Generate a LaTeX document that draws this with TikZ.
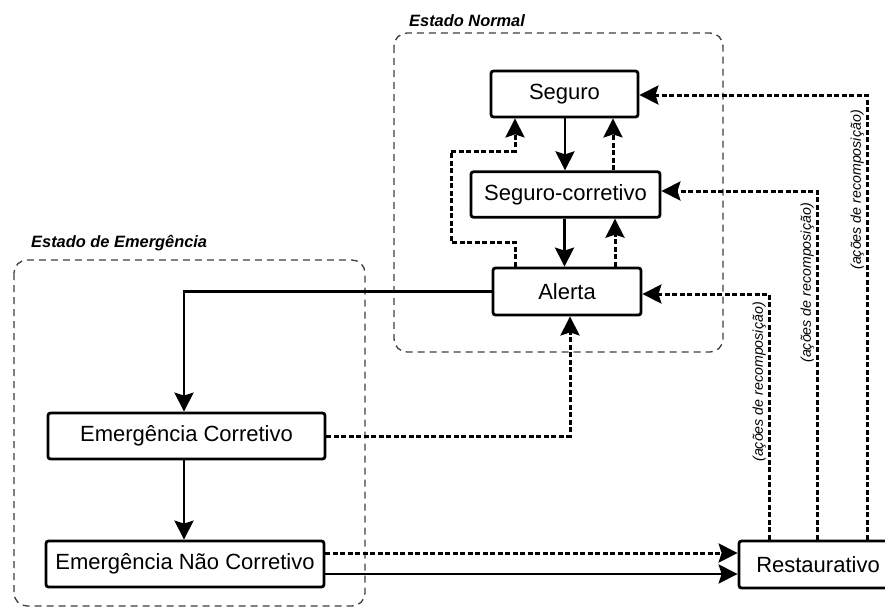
\documentclass[tikz,border=0pt]{standalone}
\usepackage{fontspec}
\setmainfont{Liberation Sans}
\usetikzlibrary{arrows.meta,calc}
\tikzset{
  box/.style={draw, line width=2.8pt, rounded corners=2.5pt, inner sep=0pt,
    minimum height=46pt, font=\fontsize{22}{26}\selectfont, fill=white},
  grp/.style={draw=black!75, line width=1.3pt, dash pattern=on 7pt off 5pt, rounded corners=13pt},
  grplabel/.style={font=\fontsize{16.4}{19}\selectfont\bfseries\itshape, inner sep=0pt},
  tip/.style={-{Stealth[length=19pt,width=19pt,inset=3pt]}},
  sarr/.style={tip, line width=2.8pt},
  darr/.style={tip, line width=3pt, dash pattern=on 5pt off 2.5pt},
  rlabel/.style={rotate=90, anchor=south east, inner sep=0pt,
    font=\fontsize{14.2}{17}\selectfont\itshape}
}
\begin{document}
\begin{tikzpicture}[x=1pt,y=-1pt]
\clip (0,0) rectangle (885,608);
\fill[white] (0,0) rectangle (885,608);
% groups
\draw[grp] (394,33) rectangle (723,352);
\node[grplabel, anchor=west] (lblN) at (409,21) {Estado Normal};
\draw[grp] (14,260) rectangle (365,606);
\node[grplabel, anchor=west] (lblE) at (31,243) {Estado de Emergência};
% nodes
\node[box, minimum width=147pt] (seg) at (564.5,94) {Seguro};
\node[box, minimum width=189pt, minimum height=45.5pt] (sc) at (565.5,194.5) {Seguro-corretivo};
\node[box, minimum width=148pt, minimum height=47pt] (al) at (567,291.5) {Alerta};
\node[box, minimum width=277pt] (ec) at (186.5,436) {Emergência Corretivo};
\node[box, minimum width=278pt] (enc) at (185,564) {Emergência Não Corretivo};
\node[box, minimum width=158pt, minimum height=47pt] (rest) at (818,564.5) {Restaurativo};
% coordinates
\coordinate (pA) at (451,242);
\coordinate (pB) at (451,151);
\coordinate (xEC) at (184,0);
\coordinate (xEA) at (570,0);
\coordinate (r1) at (769,0);
\coordinate (r2) at (817,0);
\coordinate (r3) at (867,0);
% internal normal-state arrows
\draw[sarr] ([xshift=0.5pt]seg.south) -- ([xshift=0.5pt]seg.south |- sc.north);
\draw[sarr] ([xshift=-1pt]sc.south) -- ([xshift=-1pt]sc.south |- al.north);
\draw[darr] ([xshift=47.5pt]sc.north) -- ([xshift=47.5pt]sc.north |- seg.south);
\draw[darr] ([xshift=48pt]al.north) -- ([xshift=48pt]al.north |- sc.south);
\draw[darr] ([xshift=-52pt]al.north) |- (pA) -- (pB) -| ([xshift=-49.5pt]seg.south);
% alert to emergency
\draw[sarr] (al.west) -| (xEC |- ec.north);
\draw[sarr] (xEC |- ec.south) -- (xEC |- enc.north);
\draw[darr] (ec.east) -| (xEA |- al.south);
% emergency to restaurative
\draw[darr] ([yshift=11pt]enc.east) -- ([yshift=11pt]enc.east -| rest.west);
\draw[sarr] ([yshift=-10pt]enc.east) -- ([yshift=-10pt]enc.east -| rest.west);
% restaurative back
\draw[darr] (r1 |- rest.north) |- ([yshift=-2.5pt]al.east);
\draw[darr] (r2 |- rest.north) |- ([yshift=3.5pt]sc.east);
\draw[darr] (r3 |- rest.north) |- ([yshift=-1pt]seg.east);
\node[rlabel] (l1) at (766,302) {(ações de recomposição)};
\node[rlabel] (l2) at (814,203) {(ações de recomposição)};
\node[rlabel] (l3) at (864,110) {(ações de recomposição)};
\end{tikzpicture}
\end{document}
